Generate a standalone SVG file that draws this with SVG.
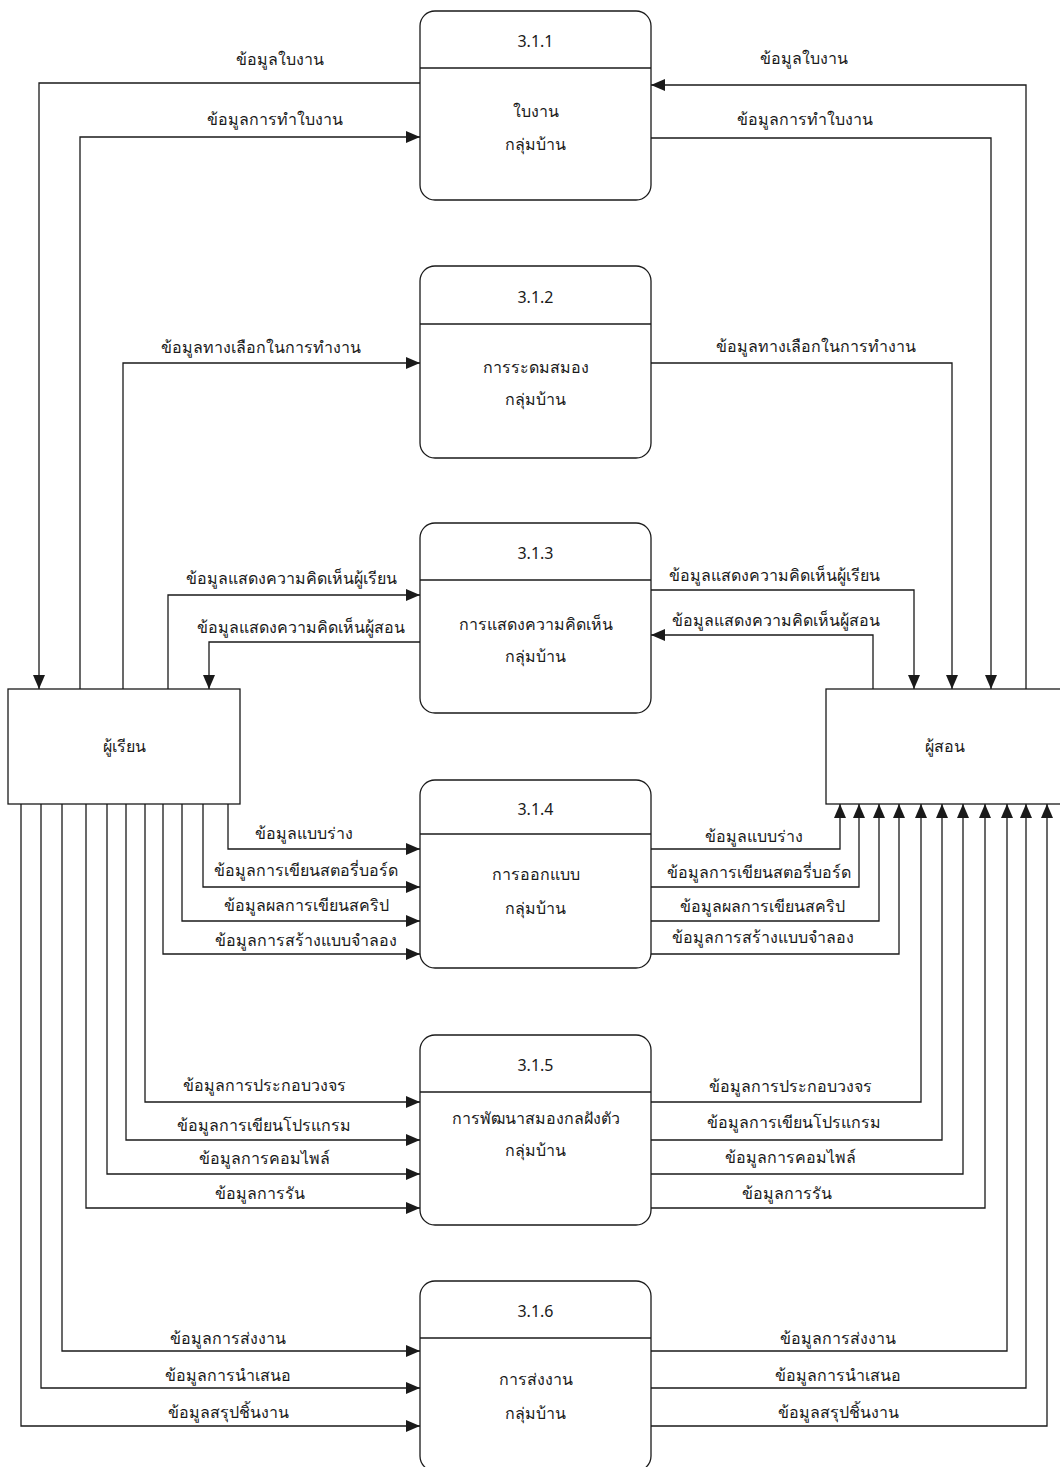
<svg xmlns="http://www.w3.org/2000/svg" width="1060" height="1467" viewBox="0 0 1060 1467">
<style>
text{font-family:"Noto Sans","DejaVu Sans",sans-serif;font-size:16px;fill:#1a1a1a;text-anchor:middle}
.box{fill:#fff;stroke:#1a1a1a;stroke-width:1.3}
.div{stroke:#1a1a1a;stroke-width:1.3}
.c{fill:none;stroke:#1a1a1a;stroke-width:1.3}
.a{marker-end:url(#arr)}
</style>
<defs>
<marker id="arr" viewBox="0 0 14 12" refX="14" refY="6" markerWidth="14" markerHeight="12" markerUnits="userSpaceOnUse" orient="auto">
<path d="M0,0 L14,6 L0,12 z" fill="#1a1a1a"/>
</marker>
</defs>
<rect width="1060" height="1467" fill="#fff"/>
<g id="connectors">
<path class="c a" d="M420,83 H39 V689"/>
<path class="c a" d="M80,689 V137 H420"/>
<path class="c a" d="M123,689 V363 H420"/>
<path class="c a" d="M168,689 V595 H420"/>
<path class="c a" d="M420,642 H209 V689"/>
<path class="c a" d="M1026,689 V85 H651"/>
<path class="c a" d="M651,138 H991 V689"/>
<path class="c a" d="M651,363 H952 V689"/>
<path class="c a" d="M651,590 H914 V689"/>
<path class="c a" d="M873,689 V635 H651"/>
<path class="c a" d="M228,804 V849 H420"/>
<path class="c a" d="M203,804 V887 H420"/>
<path class="c a" d="M182,804 V921 H420"/>
<path class="c a" d="M163,804 V954 H420"/>
<path class="c a" d="M145,804 V1102 H420"/>
<path class="c a" d="M126,804 V1140 H420"/>
<path class="c a" d="M107,804 V1174 H420"/>
<path class="c a" d="M86,804 V1208 H420"/>
<path class="c a" d="M62,804 V1351 H420"/>
<path class="c a" d="M41,804 V1388 H420"/>
<path class="c a" d="M21,804 V1426 H420"/>
<path class="c a" d="M651,849 H840 V804"/>
<path class="c a" d="M651,887 H859 V804"/>
<path class="c a" d="M651,921 H879 V804"/>
<path class="c a" d="M651,954 H899 V804"/>
<path class="c a" d="M651,1102 H921 V804"/>
<path class="c a" d="M651,1140 H942 V804"/>
<path class="c a" d="M651,1174 H963 V804"/>
<path class="c a" d="M651,1208 H985 V804"/>
<path class="c a" d="M651,1351 H1007 V804"/>
<path class="c a" d="M651,1388 H1026 V804"/>
<path class="c a" d="M651,1426 H1047 V804"/>
<text x="280" y="65">ข้อมูลใบงาน</text>
<text x="275" y="125">ข้อมูลการทำใบงาน</text>
<text x="261" y="353">ข้อมูลทางเลือกในการทำงาน</text>
<text x="291" y="584">ข้อมูลแสดงความคิดเห็นผู้เรียน</text>
<text x="301" y="633">ข้อมูลแสดงความคิดเห็นผู้สอน</text>
<text x="304" y="839">ข้อมูลแบบร่าง</text>
<text x="306" y="876">ข้อมูลการเขียนสตอรี่บอร์ด</text>
<text x="306" y="911">ข้อมูลผลการเขียนสคริป</text>
<text x="306" y="946">ข้อมูลการสร้างแบบจำลอง</text>
<text x="264" y="1091">ข้อมูลการประกอบวงจร</text>
<text x="264" y="1131">ข้อมูลการเขียนโปรแกรม</text>
<text x="264" y="1164">ข้อมูลการคอมไพล์</text>
<text x="260" y="1199">ข้อมูลการรัน</text>
<text x="228" y="1344">ข้อมูลการส่งงาน</text>
<text x="228" y="1381">ข้อมูลการนำเสนอ</text>
<text x="228" y="1418">ข้อมูลสรุปชิ้นงาน</text>
<text x="804" y="64">ข้อมูลใบงาน</text>
<text x="805" y="125">ข้อมูลการทำใบงาน</text>
<text x="816" y="352">ข้อมูลทางเลือกในการทำงาน</text>
<text x="774" y="581">ข้อมูลแสดงความคิดเห็นผู้เรียน</text>
<text x="776" y="626">ข้อมูลแสดงความคิดเห็นผู้สอน</text>
<text x="754" y="842">ข้อมูลแบบร่าง</text>
<text x="759" y="878">ข้อมูลการเขียนสตอรี่บอร์ด</text>
<text x="762" y="912">ข้อมูลผลการเขียนสคริป</text>
<text x="763" y="943">ข้อมูลการสร้างแบบจำลอง</text>
<text x="790" y="1092">ข้อมูลการประกอบวงจร</text>
<text x="794" y="1128">ข้อมูลการเขียนโปรแกรม</text>
<text x="790" y="1163">ข้อมูลการคอมไพล์</text>
<text x="787" y="1199">ข้อมูลการรัน</text>
<text x="838" y="1344">ข้อมูลการส่งงาน</text>
<text x="838" y="1381">ข้อมูลการนำเสนอ</text>
<text x="838" y="1418">ข้อมูลสรุปชิ้นงาน</text>
</g>
<g id="p311">
<rect class="box" x="420" y="11" width="231" height="189" rx="15"/>
<line class="div" x1="420" y1="68" x2="651" y2="68"/>
<text x="535.5" y="47">3.1.1</text>
<text x="535.5" y="117">ใบงาน</text>
<text x="535.5" y="150">กลุ่มบ้าน</text>
</g>
<g id="p312">
<rect class="box" x="420" y="266" width="231" height="192" rx="15"/>
<line class="div" x1="420" y1="324" x2="651" y2="324"/>
<text x="535.5" y="303">3.1.2</text>
<text x="535.5" y="373">การระดมสมอง</text>
<text x="535.5" y="405">กลุ่มบ้าน</text>
</g>
<g id="p313">
<rect class="box" x="420" y="523" width="231" height="190" rx="15"/>
<line class="div" x1="420" y1="580" x2="651" y2="580"/>
<text x="535.5" y="559">3.1.3</text>
<text x="535.5" y="630">การแสดงความคิดเห็น</text>
<text x="535.5" y="662">กลุ่มบ้าน</text>
</g>
<g id="p314">
<rect class="box" x="420" y="780" width="231" height="188" rx="15"/>
<line class="div" x1="420" y1="834" x2="651" y2="834"/>
<text x="535.5" y="815">3.1.4</text>
<text x="535.5" y="880">การออกแบบ</text>
<text x="535.5" y="914">กลุ่มบ้าน</text>
</g>
<g id="p315">
<rect class="box" x="420" y="1035" width="231" height="190" rx="15"/>
<line class="div" x1="420" y1="1092" x2="651" y2="1092"/>
<text x="535.5" y="1071">3.1.5</text>
<text x="535.5" y="1124">การพัฒนาสมองกลฝังตัว</text>
<text x="535.5" y="1156">กลุ่มบ้าน</text>
</g>
<g id="p316">
<rect class="box" x="420" y="1281" width="231" height="190" rx="15"/>
<line class="div" x1="420" y1="1338" x2="651" y2="1338"/>
<text x="535.5" y="1317">3.1.6</text>
<text x="535.5" y="1385">การส่งงาน</text>
<text x="535.5" y="1419">กลุ่มบ้าน</text>
</g>
<g id="learner">
<rect class="box" x="8" y="689" width="232" height="115"/>
<text x="124" y="752">ผู้เรียน</text>
</g>
<g id="teacher">
<rect class="box" x="826" y="689" width="240" height="115"/>
<text x="945" y="752">ผู้สอน</text>
</g>
</svg>
